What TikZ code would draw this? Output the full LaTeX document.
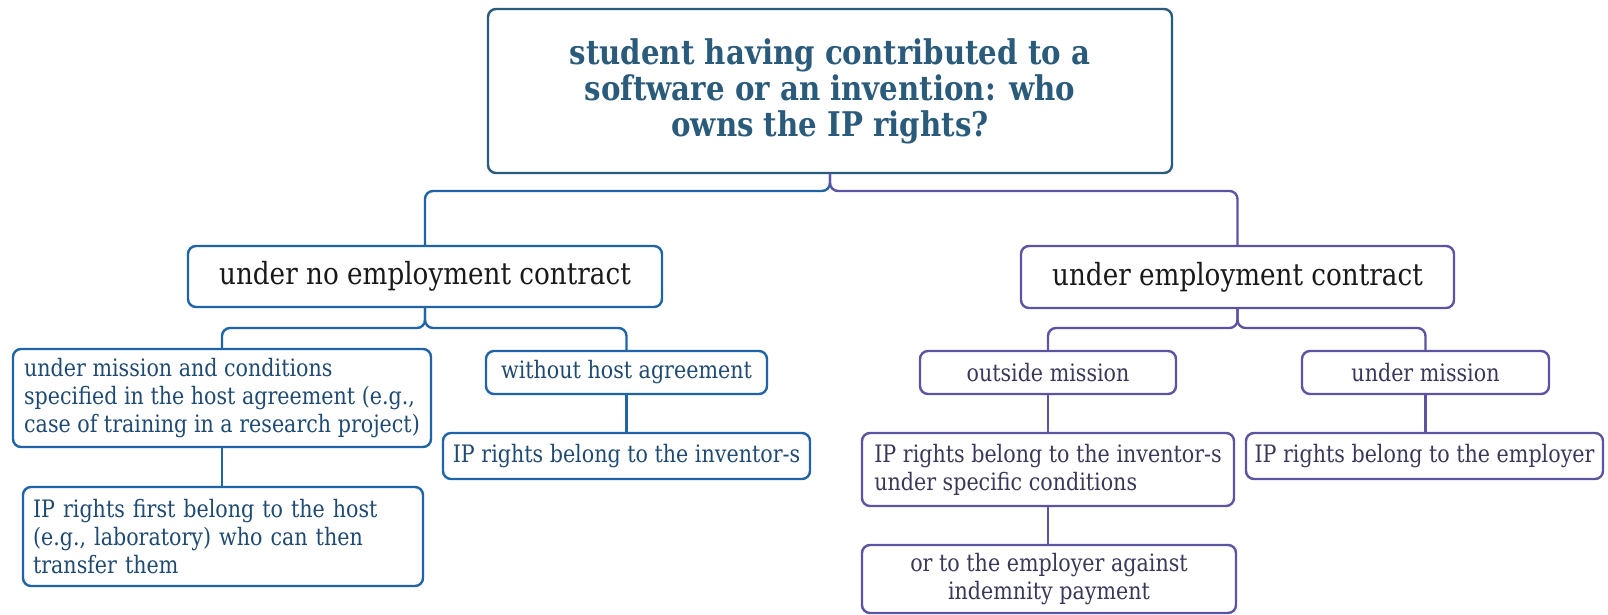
\documentclass[tikz,border=0pt]{standalone}
\usepackage{fontspec}
\setmainfont{DejaVu Serif}[FakeStretch=0.86]
\definecolor{rootc}{HTML}{2B5B7B}
\definecolor{bluec}{HTML}{1F64A6}
\definecolor{purpc}{HTML}{5C54A3}
\definecolor{btext}{HTML}{1F4A72}
\definecolor{ptext}{HTML}{3A3858}
\begin{document}
\begin{tikzpicture}[x=1pt,y=-1pt,
  box/.style={draw,rounded corners=8pt,line width=2.4pt,inner sep=0pt,outer sep=0pt},
  bbox/.style={box,draw=bluec,text=btext,font=\fontsize{24}{28}\selectfont},
  pbox/.style={box,draw=purpc,text=ptext,font=\fontsize{24}{28}\selectfont},
  bline/.style={draw=bluec,line width=2.4pt,rounded corners=8pt},
  pline/.style={draw=purpc,line width=2.4pt,rounded corners=8pt}]
\useasboundingbox (0,0) rectangle (1608,615);
% root
\node[box,draw=rootc,text=rootc,minimum width=684pt,minimum height=164pt,align=center,
  font=\bfseries\fontsize{34}{36}\selectfont] (root) at (830,91)
  {student having contributed to a\\software or an invention: who\\owns the IP rights?};
% level 1
\node[box,draw=bluec,text=black!90,minimum width=474pt,minimum height=61pt,font=\fontsize{30.5}{34}\selectfont] (L1a) at (425,276.5) {under no employment contract};
\node[box,draw=purpc,text=black!90,minimum width=433pt,minimum height=62pt,font=\fontsize{30.5}{34}\selectfont] (L1b) at (1237.5,277) {under employment contract};
% left children
\node[bbox,minimum width=418pt,minimum height=98pt,align=left] (A1) at (222,398)
  {under mission and conditions\\specified in the host agreement (e.g.,\\case of training in a research project)};
\node[bbox,minimum width=281pt,minimum height=43pt] (A2) at (626.5,372.5) {without host agreement};
\node[bbox,minimum width=367pt,minimum height=46pt] (A3) at (626.5,456) {IP rights belong to the inventor-s};
\node[bbox,minimum width=400pt,minimum height=99pt,align=left,text width=380pt] (A4) at (223,536.5)
  {IP rights first belong to the host\\(e.g., laboratory) who can then\\transfer them};
% right children
\node[pbox,minimum width=256pt,minimum height=43pt] (B1) at (1048,372.5) {outside mission};
\node[pbox,minimum width=247pt,minimum height=43pt] (B2) at (1425.5,372.5) {under mission};
\node[pbox,minimum width=372pt,minimum height=73pt,align=left] (B3) at (1048,469.5)
  {IP rights belong to the inventor-s\\under specific conditions};
\node[pbox,minimum width=374pt,minimum height=68pt,align=center] (B5) at (1049,579)
  {or to the employer against\\indemnity payment};
\node[pbox,minimum width=357pt,minimum height=46pt] (B4) at (1424.5,456) {IP rights belong to the employer};
% coordinates
\coordinate (r0) at (830,191);
\coordinate (a0) at (425,328);
\coordinate (b0) at (1237.5,328);
% connectors
\draw[bline] (root.south) -- (r0) -| (L1a.north);
\draw[pline] (root.south) -- (r0) -| (L1b.north);
\draw[bline] (L1a.south) -- (a0) -| (A1.north);
\draw[bline] (L1a.south) -- (a0) -| (A2.north);
\draw[bline] (A1.south) -- (A4.north -| A1.south);
\draw[bline] (A2.south) -- (A3.north);
\draw[pline] (L1b.south) -- (b0) -| (B1.north);
\draw[pline] (L1b.south) -- (b0) -| (B2.north);
\draw[pline] (B1.south) -- (B3.north);
\draw[pline] (B2.south) -- (B4.north -| B2.south);
\draw[pline] (B3.south) -- (B5.north -| B3.south);
\end{tikzpicture}
\end{document}
